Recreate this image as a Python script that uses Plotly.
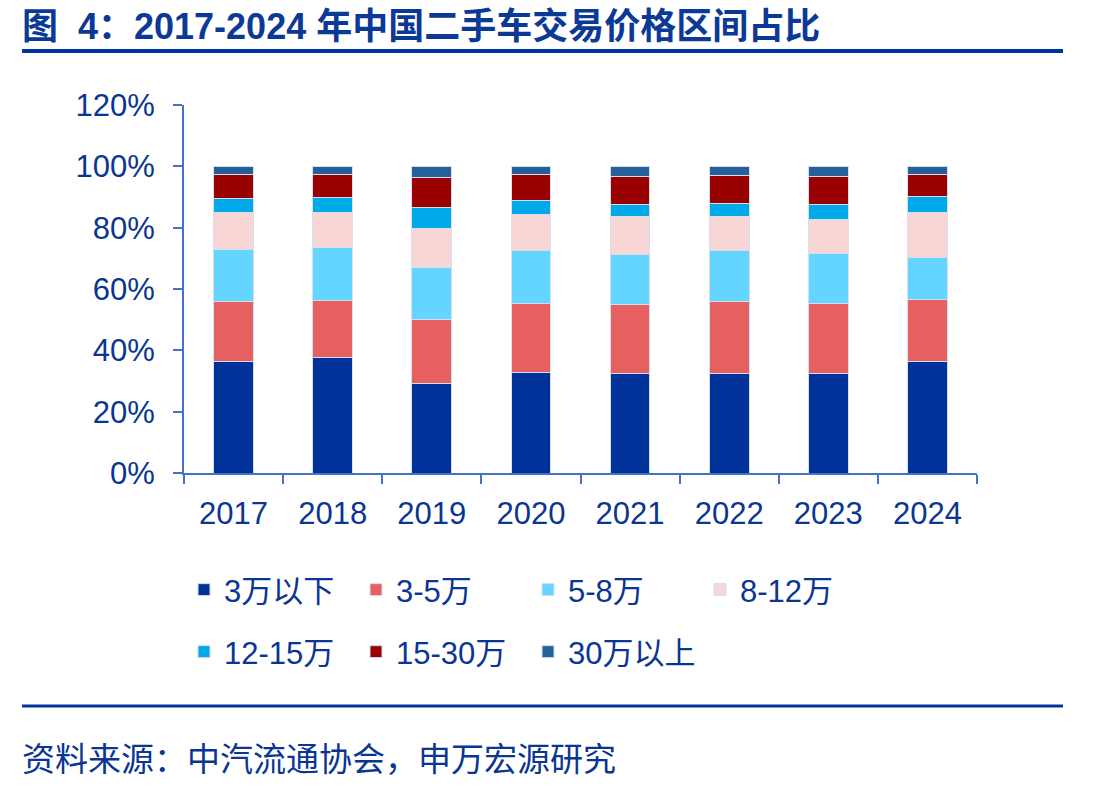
import plotly.graph_objects as go

years = ["2017", "2018", "2019", "2020", "2021", "2022", "2023", "2024"]
series_names = ["3万以下", "3-5万", "5-8万", "8-12万", "12-15万", "15-30万", "30万以上"]
below_3 = [36.2, 37.8, 29.1, 32.9, 32.3, 32.3, 32.6, 36.5]
r3_5 = [19.6, 18.3, 20.8, 22.5, 22.8, 23.6, 22.7, 20.2]
r5_8 = [17.2, 17.5, 17.1, 17.0, 16.3, 16.5, 16.4, 13.7]
r8_12 = [12.0, 11.5, 12.7, 11.9, 12.1, 11.4, 11.1, 14.4]
r12_15 = [4.6, 4.8, 6.9, 4.6, 4.1, 4.1, 4.8, 5.3]
r15_30 = [7.6, 7.6, 9.7, 8.4, 9.2, 9.1, 9.2, 7.1]
above_30 = [2.8, 2.5, 3.7, 2.7, 3.2, 3.0, 3.2, 2.8]
y_ticks = [0, 20, 40, 60, 80, 100, 120]
y_tick_labels = ["0%", "20%", "40%", "60%", "80%", "100%", "120%"]

values = [below_3, r3_5, r5_8, r8_12, r12_15, r15_30, above_30]
colors = ["#003399", "#E66060", "#63D5FF", "#F9D6D6", "#00AAE9", "#990000", "#26609A"]
legend_ids = ["legend", "legend", "legend", "legend", "legend2", "legend2", "legend2"]

TXT = "#0A3593"
AX = "#4472C4"
FONT = "Liberation Sans, Arial, Noto Sans CJK SC"

fig = go.Figure()
for name, vals, col, lg in zip(series_names, values, colors, legend_ids):
    fig.add_trace(go.Bar(
        x=years, y=vals, name=name, marker_color=col,
        marker_line=dict(color="#D6DEEE", width=1),
        width=0.4, legend=lg,
    ))

legend_common = dict(
    orientation="h", xref="container", yref="container",
    xanchor="left", yanchor="middle", traceorder="normal",
    font=dict(family=FONT, size=31, color=TXT),
    entrywidth=127, entrywidthmode="pixels",
    itemclick=False, bgcolor="rgba(0,0,0,0)", tracegroupgap=0,
)

fig.update_layout(
    width=1110, height=789,
    paper_bgcolor="white", plot_bgcolor="white",
    margin=dict(l=184, r=133, t=105, b=316),
    barmode="stack",
    font=dict(family=FONT, size=31, color=TXT),
    legend=dict(x=184 / 1110, y=1 - 590 / 789, **legend_common),
    legend2=dict(x=184 / 1110, y=1 - 652 / 789, **legend_common),
    xaxis=dict(
        showline=True, linecolor=AX, linewidth=2,
        ticks="outside", tickson="boundaries", ticklen=9, tickwidth=2, tickcolor=AX,
        tickfont=dict(family=FONT, size=31, color=TXT),
        showgrid=False, fixedrange=True, ticklabelstandoff=12,
    ),
    yaxis=dict(
        range=[0, 120], tickvals=y_ticks, ticktext=y_tick_labels,
        showline=True, linecolor=AX, linewidth=2,
        ticks="outside", ticklen=9, tickwidth=2, tickcolor=AX,
        tickfont=dict(family=FONT, size=31, color=TXT),
        showgrid=False, zeroline=False, fixedrange=True,
        ticklabelstandoff=12,
    ),
)

plot_l, plot_r, plot_t, plot_b = 184, 977, 105, 473
pw, ph = plot_r - plot_l, plot_b - plot_t
def px(x):
    return (x - plot_l) / pw
def py(y):
    return (plot_b - y) / ph

fig.add_annotation(
    text="<b>图  4：2017-2024 年中国二手车交易价格区间占比</b>",
    xref="paper", yref="paper", x=px(20), y=py(26),
    showarrow=False, xanchor="left", yanchor="middle",
    font=dict(family="Liberation Sans, Noto Sans CJK SC", size=36, color="#0B3A96"),
)
fig.add_annotation(
    text="资料来源：中汽流通协会，申万宏源研究",
    xref="paper", yref="paper", x=px(20), y=py(757),
    showarrow=False, xanchor="left", yanchor="middle",
    font=dict(family="Noto Sans CJK SC", size=33, color=TXT),
)
fig.add_shape(type="line", xref="paper", yref="paper",
              x0=px(22), x1=px(1063), y0=py(51), y1=py(51),
              line=dict(color="#0033A0", width=4))
fig.add_shape(type="line", xref="paper", yref="paper",
              x0=px(22), x1=px(1063), y0=py(706), y1=py(706),
              line=dict(color="#0033A0", width=3))

fig.write_html("out.html")
